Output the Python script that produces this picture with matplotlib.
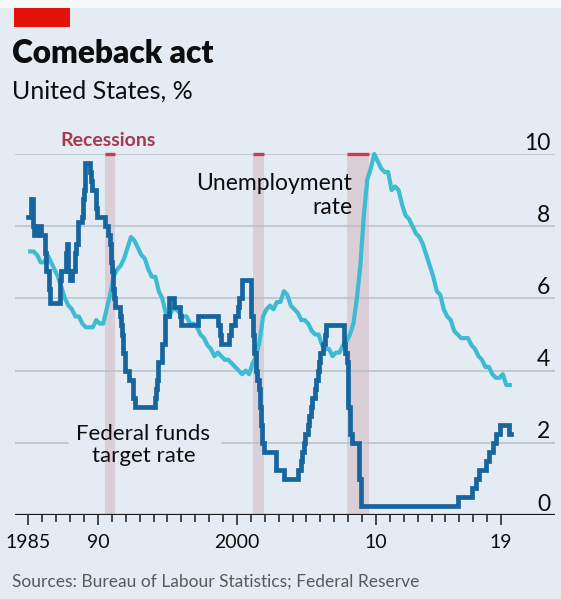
import matplotlib
matplotlib.use("Agg")
import matplotlib.pyplot as plt
from matplotlib.patches import Rectangle

plt.rcParams["font.family"] = ["Lato", "DejaVu Sans"]

# ---- data -------------------------------------------------------------
# Unemployment rate, %, quarterly from 1985 Q1
unemployment = [
    7.3, 7.3, 7.2, 7.0,   # 1985
    7.0, 7.2, 7.0, 6.8,   # 1986
    6.6, 6.3, 6.0, 5.8,   # 1987
    5.7, 5.5, 5.5, 5.3,   # 1988
    5.2, 5.2, 5.2, 5.4,   # 1989
    5.3, 5.3, 5.7, 6.1,   # 1990
    6.6, 6.8, 6.9, 7.1,   # 1991
    7.4, 7.7, 7.6, 7.4,   # 1992
    7.2, 7.1, 6.8, 6.6,   # 1993
    6.6, 6.2, 6.0, 5.6,   # 1994
    5.5, 5.7, 5.7, 5.6,   # 1995
    5.5, 5.5, 5.3, 5.3,   # 1996
    5.2, 5.0, 4.9, 4.7,   # 1997
    4.6, 4.4, 4.5, 4.4,   # 1998
    4.3, 4.3, 4.2, 4.1,   # 1999
    4.0, 3.9, 4.0, 3.9,   # 2000
    4.2, 4.4, 4.8, 5.5,   # 2001
    5.7, 5.8, 5.7, 5.9,   # 2002
    5.9, 6.2, 6.1, 5.8,   # 2003
    5.7, 5.6, 5.4, 5.4,   # 2004
    5.3, 5.1, 5.0, 5.0,   # 2005
    4.7, 4.6, 4.6, 4.4,   # 2006
    4.5, 4.5, 4.7, 4.8,   # 2007
    5.0, 5.3, 6.0, 6.9,   # 2008
    8.3, 9.3, 9.6, 10.0,  # 2009
    9.8, 9.6, 9.5, 9.5,   # 2010
    9.0, 9.1, 9.0, 8.6,   # 2011
    8.3, 8.2, 8.0, 7.8,   # 2012
    7.7, 7.5, 7.2, 6.9,   # 2013
    6.6, 6.2, 6.1, 5.7,   # 2014
    5.5, 5.4, 5.1, 5.0,   # 2015
    4.9, 4.9, 4.9, 4.7,   # 2016
    4.6, 4.4, 4.3, 4.1,   # 2017
    4.1, 3.9, 3.8, 3.8,   # 2018
    3.9, 3.6, 3.6,        # 2019
]

# Federal funds target rate (upper bound from 2008), %, at each change
fed_dates = [
    "1985-01", "1985-03", "1985-05", "1985-06", "1985-08", "1985-12",
    "1986-03", "1986-04", "1986-07", "1986-08",
    "1987-04", "1987-05", "1987-09", "1987-10", "1987-11",
    "1988-01", "1988-03", "1988-05", "1988-06", "1988-08", "1988-11", "1988-12",
    "1989-01", "1989-02", "1989-06", "1989-07", "1989-08", "1989-11", "1989-12",
    "1990-07", "1990-10", "1990-11", "1990-12",
    "1991-01", "1991-02", "1991-03", "1991-04", "1991-08", "1991-09",
    "1991-10", "1991-11", "1991-12",
    "1992-04", "1992-07", "1992-09",
    "1994-02", "1994-03", "1994-04", "1994-05", "1994-08", "1994-11",
    "1995-02", "1995-07", "1995-12", "1996-01", "1997-03",
    "1998-09", "1998-10", "1998-11", "1999-06", "1999-08", "1999-11",
    "2000-02", "2000-03", "2000-05",
    "2001-01", "2001-03", "2001-04", "2001-05", "2001-06", "2001-08",
    "2001-09", "2001-10", "2001-11", "2001-12",
    "2002-11", "2003-06",
    "2004-06", "2004-08", "2004-09", "2004-11", "2004-12",
    "2005-02", "2005-03", "2005-05", "2005-06", "2005-08", "2005-09",
    "2005-11", "2005-12",
    "2006-01", "2006-03", "2006-05", "2006-06",
    "2007-09", "2007-10", "2007-12",
    "2008-01", "2008-03", "2008-04", "2008-10", "2008-12",
    "2015-12", "2016-12", "2017-03", "2017-06", "2017-12",
    "2018-03", "2018-06", "2018-09", "2018-12", "2019-08", "2019-10",
]
fed_rates = [
    8.25, 8.75, 8.0, 7.75, 8.0, 7.75,
    7.25, 6.75, 6.25, 5.875,
    6.5, 6.75, 7.25, 7.5, 6.75,
    6.5, 6.75, 7.25, 7.5, 8.125, 8.25, 8.75,
    9.0, 9.75, 9.5, 9.25, 9.0, 8.5, 8.25,
    8.0, 7.75, 7.5, 7.0,
    6.75, 6.25, 6.0, 5.75, 5.5, 5.25,
    5.0, 4.5, 4.0,
    3.75, 3.25, 3.0,
    3.25, 3.5, 3.75, 4.25, 4.75, 5.5,
    6.0, 5.75, 5.5, 5.25, 5.5,
    5.25, 5.0, 4.75, 5.0, 5.25, 5.5,
    5.75, 6.0, 6.5,
    5.5, 5.0, 4.5, 4.0, 3.75, 3.5,
    3.0, 2.5, 2.0, 1.75,
    1.25, 1.0,
    1.25, 1.5, 1.75, 2.0, 2.25,
    2.5, 2.75, 3.0, 3.25, 3.5, 3.75,
    4.0, 4.25,
    4.5, 4.75, 5.0, 5.25,
    4.75, 4.5, 4.25,
    3.0, 2.25, 2.0, 1.0, 0.25,
    0.5, 0.75, 1.0, 1.25, 1.5,
    1.75, 2.0, 2.25, 2.5, 2.25, 2.25,
]

# NBER recessions (start month, end month)
recessions = [("1990-07", "1991-03"), ("2001-03", "2001-11"), ("2007-12", "2009-06")]

y_ticks = [0, 2, 4, 6, 8, 10]
x_tick_years = [1985, 1990, 2000, 2010, 2019]
x_tick_labels = ["1985", "90", "2000", "10", "19"]


def to_year(s, end=False):
    y, m = s.split("-")
    return int(y) + (int(m) - 1 + (1 if end else 0)) / 12


# ---- style ------------------------------------------------------------
BG = "#e4ebf2"
GRID = "#b8c0c8"
DARK = "#17659f"
LIGHT = "#3dbbd2"
REC = "#dacfd7"
REC_TOP = "#c63e50"
W, H = 561, 599

fig = plt.figure(figsize=(W / 100, H / 100), dpi=100, facecolor=BG)
fig.patches.append(Rectangle((0, 1 - 8 / H), 1, 8 / H, transform=fig.transFigure,
                             facecolor="#f6f8fa", edgecolor="none"))
fig.patches.append(Rectangle((14 / W, 1 - 27 / H), 56 / W, 19 / H,
                             transform=fig.transFigure, facecolor="#e3120b",
                             edgecolor="none"))


def fx(x):
    return x / W


def fy(y):
    return 1 - y / H


fig.text(fx(12), fy(63), "Comeback act", fontsize=22.8, fontweight="heavy",
         color="#0d0d0d", va="baseline", ha="left")
fig.text(fx(12), fy(99), "United States, %", fontsize=18, color="#0d0d0d",
         va="baseline", ha="left")
fig.text(fx(12), fy(587), "Sources: Bureau of Labour Statistics; Federal Reserve",
         fontsize=12.5, color="#595959", va="baseline", ha="left")

ax = fig.add_axes([fx(15), 84 / H, 540 / W, 361 / H])
ax.set_facecolor(BG)
ax.set_xlim(1984.03, 2022.88)
ax.set_ylim(0, 10)
for s in ax.spines.values():
    s.set_visible(False)

# horizontal gridlines; the one at 2 leaves room for the series label
for v in y_ticks[1:]:
    if v == 2:
        ax.axhline(v, xmin=0, xmax=(68 - 15) / 540, color=GRID, lw=1.1, zorder=1)
        ax.axhline(v, xmin=(222 - 15) / 540, xmax=1, color=GRID, lw=1.1, zorder=1)
    else:
        ax.axhline(v, color=GRID, lw=1.1, zorder=1)
ax.axhline(0, color="#1a1a1a", lw=1.6, zorder=6)

for v in y_ticks:
    ax.text(0.991, v + 0.12, str(v), transform=ax.get_yaxis_transform(),
            ha="right", va="baseline", fontsize=16.5, color="#0d0d0d")

for s, e in recessions:
    xs, xe = to_year(s), to_year(e, end=True)
    ax.axvspan(xs, xe, ymin=0, ymax=1, facecolor=REC, edgecolor="none", zorder=0.5)
    ax.plot([xs, xe], [10, 10], color=REC_TOP, lw=2.4, solid_capstyle="butt",
            zorder=2, clip_on=False)

ux = [1985 + i / 4 + 0.125 for i in range(len(unemployment))]
ax.plot(ux, unemployment, color=LIGHT, lw=3.0, zorder=3, clip_on=False,
        solid_joinstyle="round")

fxs = [to_year(d) for d in fed_dates]
ax.plot(fxs, fed_rates, color=DARK, lw=3.4, drawstyle="steps-post", zorder=4,
        clip_on=False, solid_joinstyle="miter")

ax.text(fx(60), fy(146), "Recessions", transform=fig.transFigure, fontsize=14,
        color="#a6394f", fontweight="bold", ha="left", va="baseline")
ax.text(fx(352), fy(214), "Unemployment\nrate", transform=fig.transFigure,
        fontsize=16.5, color="#0d0d0d", ha="right", va="baseline",
        linespacing=1.15, multialignment="right", zorder=5)
ax.text(fx(143.5), fy(462), "Federal funds\ntarget rate", transform=fig.transFigure,
        fontsize=16, color="#0d0d0d", ha="center", va="baseline",
        linespacing=1.15, multialignment="center", zorder=5)

ax.set_yticks([])
ax.set_xticks(x_tick_years)
ax.set_xticklabels(x_tick_labels)
ax.set_xticks([y for y in range(1985, 2020) if y not in x_tick_years], minor=True)
ax.tick_params(axis="x", which="major", length=7, width=1.1, color="#1a1a1a",
               pad=7, labelsize=14, labelcolor="#0d0d0d")
ax.tick_params(axis="x", which="minor", length=5, width=1.1, color="#1a1a1a")

fig.savefig("out.png", dpi=100, facecolor=BG)
